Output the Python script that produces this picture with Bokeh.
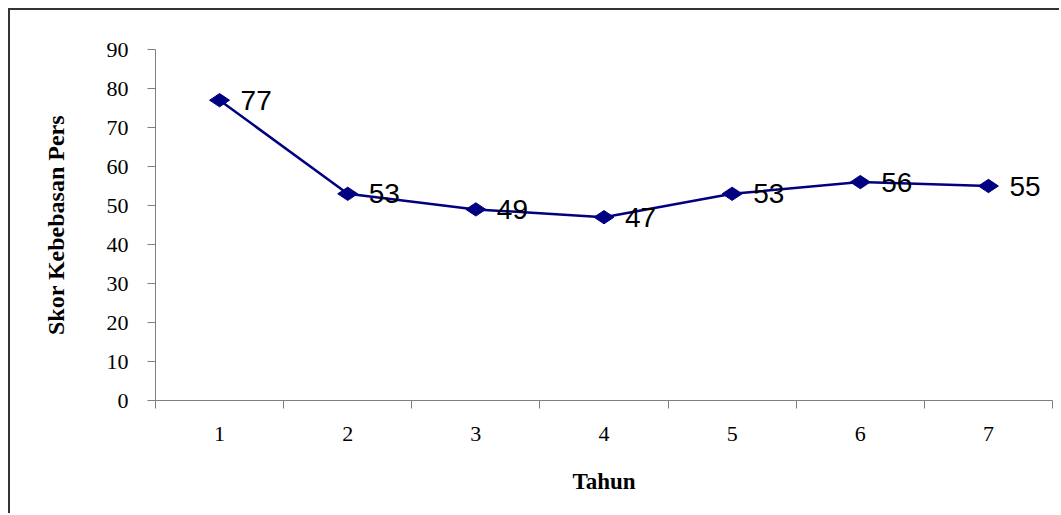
import math
from bokeh.plotting import figure
from bokeh.models import FixedTicker, Range1d, ColumnDataSource, LabelSet
from bokeh.core.properties import value
from bokeh.embed import file_html
from bokeh.resources import INLINE

# ---- data ----
years = [1, 2, 3, 4, 5, 6, 7]
scores = [77, 53, 49, 47, 53, 56, 55]
score_labels = ["77", "53", "49", "47", "53", "56", "55"]
y_ticks = [0, 10, 20, 30, 40, 50, 60, 70, 80, 90]
x_title = "Tahun"
y_title = "Skor Kebebasan Pers"

src = ColumnDataSource(dict(x=years, y=scores, t=score_labels))

p = figure(width=1051, height=505, output_backend="svg", toolbar_location=None,
           x_range=Range1d(0.5, 7.5), y_range=Range1d(0, 90),
           min_border_left=145, min_border_right=9,
           min_border_top=39, min_border_bottom=115)
p.styles = {"border-top": "2px solid #333333", "border-left": "2px solid #333333",
            "margin-top": "8px", "margin-left": "8px"}
p.outline_line_color = None
p.xgrid.visible = False
p.ygrid.visible = False
p.background_fill_color = "white"
p.border_fill_color = "white"

axis_color = "#7f7f7f"
serif = "Liberation Serif"

xa = p.xaxis[0]
xa.ticker = FixedTicker(ticks=years, minor_ticks=[i + 0.5 for i in range(0, 8)])
xa.major_tick_out = 0
xa.major_tick_in = 0
xa.minor_tick_out = 8
xa.minor_tick_in = 0
xa.axis_line_color = axis_color
xa.minor_tick_line_color = axis_color
xa.major_label_text_font = serif
xa.major_label_text_font_size = "22px"
xa.major_label_text_color = "black"
xa.major_label_standoff = 18
xa.axis_label = x_title
xa.axis_label_text_font = serif
xa.axis_label_text_font_style = "bold"
xa.axis_label_text_font_size = "23px"
xa.axis_label_text_color = "black"
xa.axis_label_standoff = 25

ya = p.yaxis[0]
ya.ticker = FixedTicker(ticks=y_ticks, minor_ticks=[])
ya.major_tick_out = 8
ya.major_tick_in = 0
ya.axis_line_color = axis_color
ya.major_tick_line_color = axis_color
ya.major_label_text_font = serif
ya.major_label_text_font_size = "22px"
ya.major_label_text_color = "black"
ya.major_label_standoff = 19
ya.axis_label = y_title
ya.axis_label_text_font = serif
ya.axis_label_text_font_style = "bold"
ya.axis_label_text_font_size = "24px"
ya.axis_label_text_color = "black"
ya.axis_label_standoff = 35

navy = "#000080"
p.line("x", "y", source=src, line_color=navy, line_width=2.5)
p.scatter("x", "y", source=src, marker="diamond", size=20, angle=math.pi / 2,
          fill_color=navy, line_color=navy)

labels = LabelSet(x="x", y="y", text="t", source=src, x_offset=21, y_offset=0,
                  text_baseline="middle", text_align="left",
                  text_font=value("Liberation Sans"), text_font_size=value("28px"),
                  text_color="black")
p.add_layout(labels)

open("out.html", "w").write(file_html(p, INLINE))
